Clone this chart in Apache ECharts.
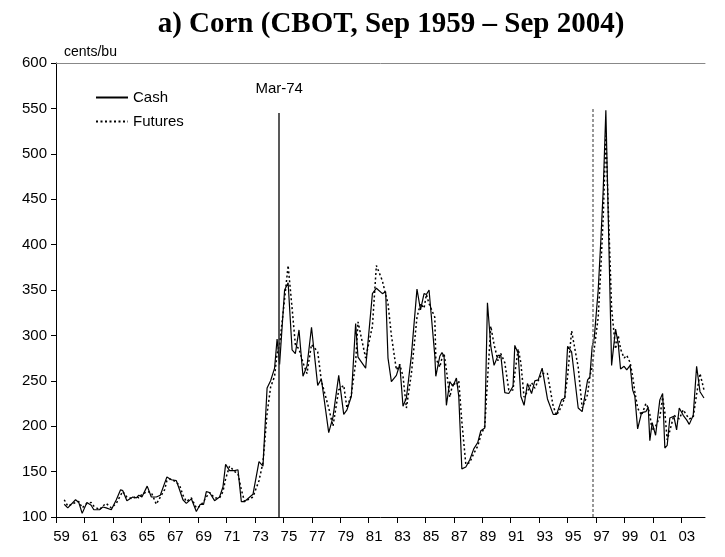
<!DOCTYPE html>
<html>
<head>
<meta charset="utf-8">
<script src="https://cdn.jsdelivr.net/npm/echarts@6/dist/echarts.min.js"></script>
<style>html,body{margin:0;padding:0;background:#fff}#c{width:725px;height:557px}</style>
</head>
<body>
<div id="c"></div>
<script>
const dates = [
1959.56,1959.80,1960.33,1960.55,1960.78,1961.10,1961.39,1961.57,1961.96,1962.18,
1962.41,1962.76,1963.10,1963.39,1963.54,1963.82,1964.22,1964.46,1964.63,1964.84,
1965.20,1965.48,1965.82,1966.09,1966.38,1966.54,1966.84,1967.18,1967.40,1967.63,
1967.86,1968.20,1968.54,1968.81,1969.03,1969.22,1969.44,1969.78,1970.12,1970.35,
1970.53,1970.80,1971.14,1971.37,1971.60,1971.82,1972.39,1972.80,1973.07,1973.35,
1973.59,1973.86,1974.03,1974.20,1974.54,1974.78,1975.05,1975.27,1975.52,1975.79,
1976.06,1976.37,1976.79,1977.04,1977.54,1977.83,1978.22,1978.56,1978.78,1979.08,
1979.37,1979.53,1980.05,1980.51,1980.78,1981.19,1981.41,1981.57,1981.80,1982.14,
1982.37,1982.59,1982.82,1983.16,1983.54,1983.78,1984.02,1984.18,1984.36,1984.75,
1984.82,1985.09,1985.24,1985.38,1985.54,1985.77,1985.99,1986.22,1986.38,1986.59,
1986.86,1987.13,1987.40,1987.67,1987.88,1988.15,1988.33,1988.56,1988.78,1989.05,
1989.24,1989.51,1989.78,1990.07,1990.19,1990.42,1990.60,1990.82,1991.05,1991.33,
1991.55,1991.78,1992.05,1992.41,1992.80,1993.03,1993.37,1993.59,1993.78,1994.05,
1994.50,1994.77,1995.14,1995.29,1995.45,1995.59,1995.86,1996.04,1996.20,1996.38,
1996.77,1997.04,1997.22,1997.38,1997.62,1997.80,1998.03,1998.20,1998.35,1998.54,
1998.81,1999.10,1999.26,1999.37,1999.53,1999.76,2000.05,2000.24,2000.39,2000.55,
2000.73,2001.00,2001.19,2001.37,2001.64,2001.87,2002.05,2002.32,2002.55,2002.78,
2003.05
];
// Cash price, cents/bu
const cash = [
114,110,119,116,104,116,113,108,108,111,
110,108,119,130,129,118,122,121,124,122,
134,122,122,124,137,144,141,140,130,119,
115,120,106,114,114,128,127,118,122,133,
158,151,151,152,117,117,125,161,156,242,
250,264,296,268,350,358,284,280,306,255,
266,309,245,252,193,210,256,213,218,233,
313,276,264,346,352,346,348,275,249,256,
268,222,231,278,351,328,346,345,350,278,
255,277,281,277,223,249,244,253,233,153,
155,163,175,182,195,198,336,288,267,278,
278,237,236,244,289,280,233,223,247,236,
250,251,264,230,213,213,229,231,288,282,
220,216,251,254,288,297,350,405,460,548,
267,307,291,263,266,262,267,240,233,197,
215,216,221,184,204,190,229,236,176,179,
209,211,196,220,212,207,202,212,266,238,
231
];
// Futures price, cents/bu
const futures = [
119,112,116,117,110,115,116,112,108,112,
115,110,115,124,128,122,120,123,121,125,
128,127,114,122,130,140,142,138,135,124,
117,121,110,112,117,122,127,121,121,128,
142,156,150,148,130,117,122,140,160,214,
243,255,280,290,340,377,330,290,285,270,
258,290,282,250,220,200,240,245,220,235,
270,315,275,310,377,360,345,335,300,262,
268,255,220,258,320,335,330,345,335,320,
275,265,275,280,262,232,248,245,250,205,
158,160,170,178,190,200,250,310,290,272,
280,270,240,240,258,285,270,232,238,248,
242,250,258,258,222,212,222,232,255,305,
265,220,235,255,265,285,320,375,430,520,
330,285,300,285,275,278,270,255,238,220,
212,225,220,213,195,200,210,232,215,185,
195,212,210,208,218,212,208,210,235,258,
240
];
// Category-style tick labels of the x axis and event markers
const tickLabels = ['59','61','63','65','67','69','71','73','75','77','79','81','83','85','87','89','91','93','95','97','99','01','03'];
const yTicks = [100,150,200,250,300,350,400,450,500,550,600];
const eventMar74 = {x: 1974.17, top: 545, label: 'Mar-74'};
const eventSep95 = {x: 1995.48, top: 550};

// layout of the (category-like) x axis labelling
const xMin = 1959, xMax = 2003.12;
const tickStart = 1959, tickStep = 1.932, labelShift = 0.38;
const tickVals = tickLabels.map((_, k) => tickStart + k * tickStep);
const labelVals = tickVals.map(v => v + labelShift);

const pair = (arr) => dates.map((d, i) => [d, arr[i]]);
const fam = '"Liberation Sans", Arial, sans-serif';
const chart = echarts.init(document.getElementById('c'));
chart.setOption({
  animation: false,
  backgroundColor: '#fff',
  title: {
    text: 'a) Corn (CBOT, Sep 1959 \u2013 Sep 2004)',
    left: 386, top: 5, textAlign: 'center',
    textStyle: {fontFamily: '"Liberation Serif", "Times New Roman", serif', fontWeight: 'bold', fontSize: 29, color: '#000'}
  },
  legend: {
    orient: 'vertical', left: 90, top: 85, itemWidth: 32, itemHeight: 10, itemGap: 9,
    textStyle: {fontFamily: fam, fontSize: 15, color: '#000'},
    itemStyle: {color: 'rgba(0,0,0,0)', borderWidth: 0, opacity: 0},
    data: ['Cash', 'Futures']
  },
  grid: {left: 56, right: 20, top: 63, bottom: 40, containLabel: false},
  xAxis: [{
    type: 'value', min: xMin, max: xMax,
    axisLine: {show: true, lineStyle: {color: '#000', width: 1}},
    axisTick: {show: true, inside: false, length: 6, lineStyle: {color: '#000'}, customValues: tickVals},
    axisLabel: {customValues: labelVals,
      formatter: v => tickLabels[Math.round((v - labelShift - tickStart) / tickStep)] || '',
      fontFamily: fam, fontSize: 15, color: '#000', margin: 12},
    splitLine: {show: false}
  }, {
    type: 'value', position: 'top', min: xMin, max: xMax,
    axisLine: {show: true, lineStyle: {color: '#888', width: 1}},
    axisTick: {show: false}, axisLabel: {show: false}, splitLine: {show: false}
  }],
  yAxis: {
    type: 'value', min: yTicks[0], max: yTicks[yTicks.length - 1], interval: 50,
    name: 'cents/bu', nameLocation: 'end', nameGap: 4,
    nameTextStyle: {fontFamily: fam, fontSize: 14, color: '#000', align: 'left', padding: [0, 0, 0, 8]},
    axisLine: {show: true, lineStyle: {color: '#000', width: 1}},
    axisTick: {show: true, length: 5, lineStyle: {color: '#000'}},
    axisLabel: {fontFamily: fam, fontSize: 15, color: '#000', margin: 9},
    splitLine: {show: false}
  },
  series: [{
    name: 'Cash', type: 'line', data: pair(cash), symbol: 'none',
    lineStyle: {color: '#000', width: 1.2, type: 'solid'},
    itemStyle: {color: '#000'},
    markLine: {
      silent: true, symbol: 'none',
      label: {show: true, position: 'end', formatter: eventMar74.label, fontFamily: fam, fontSize: 15, color: '#000', distance: 17},
      lineStyle: {color: '#222', width: 1.5, type: 'solid'},
      data: [[{coord: [eventMar74.x, 100]}, {coord: [eventMar74.x, eventMar74.top]}]]
    }
  }, {
    name: 'Futures', type: 'line', data: pair(futures), symbol: 'none',
    lineStyle: {color: '#000', width: 1.5, type: [2, 2.5]},
    itemStyle: {color: '#000'},
    markLine: {
      silent: true, symbol: 'none', label: {show: false},
      lineStyle: {color: '#777', width: 1.5, type: [3, 2]},
      data: [[{coord: [eventSep95.x, 100]}, {coord: [eventSep95.x, eventSep95.top]}]]
    }
  }]
});
</script>
</body>
</html>
